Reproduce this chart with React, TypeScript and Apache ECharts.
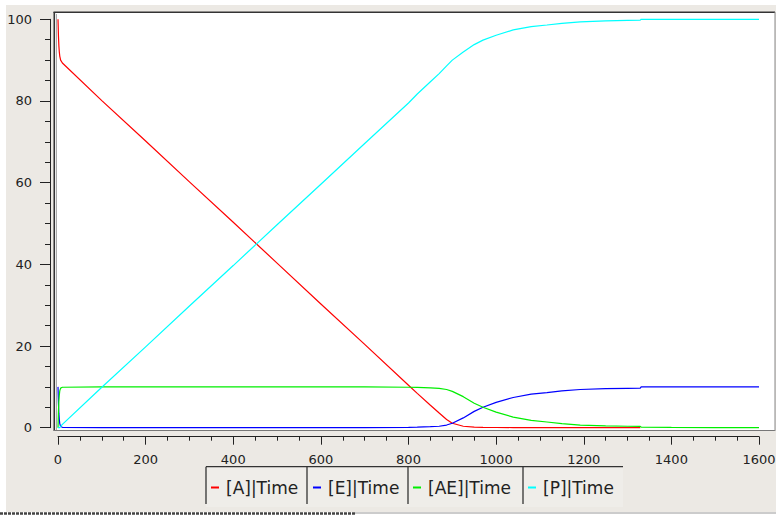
import React, { useEffect, useRef } from 'react';
import * as echarts from 'echarts';

// Time points (x values)
const times = [0, 1, 2, 3, 4, 6, 10, 100, 200, 300, 400, 500, 600, 700, 800, 820, 850, 870, 887, 900, 925, 950, 970, 1000, 1039, 1080, 1116, 1150, 1192, 1250, 1300, 1329, 1331, 1400, 1500, 1600];

// Concentrations
const valuesA: (number | null)[] = [100, 96, 93.5, 92, 91, 90, 89.3, 80.1, 70.2, 60.2, 50.3, 40.3, 30.3, 20.4, 10.4, 8.4, 5.5, 3.6, 2.0, 1.1, 0.35, 0.15, 0.08, 0.05, 0.04, 0.03, 0.02, 0.02, 0.01, 0.01, 0.01, 0.01, null, null, null, null];
const valuesE = [10, 6, 3.5, 2, 1, 0.3, 0.1, 0, 0, 0, 0, 0, 0, 0, 0.1, 0.15, 0.25, 0.35, 0.65, 1.1, 2.4, 4.0, 5.0, 6.2, 7.4, 8.2, 8.6, 9.0, 9.35, 9.55, 9.65, 9.7, 10.0, 10.0, 10.0, 10.0];
const valuesAE = [0, 4, 6.5, 8, 9, 9.7, 9.9, 10, 10, 10, 10, 10, 10, 10, 9.9, 9.85, 9.75, 9.65, 9.35, 8.9, 7.6, 6.0, 5.0, 3.8, 2.6, 1.8, 1.4, 1.0, 0.65, 0.45, 0.35, 0.3, 0.15, 0.1, 0.04, 0.01];
const valuesP = [0, 0, 0, 0, 0, 0.3, 0.8, 9.9, 19.8, 29.8, 39.7, 49.7, 59.6, 69.6, 79.5, 81.7, 84.7, 86.7, 88.6, 90.0, 92.0, 93.8, 94.9, 96.1, 97.4, 98.2, 98.6, 99.0, 99.35, 99.6, 99.75, 99.8, 100, 100, 100, 100];

const seriesNames = ['[A]|Time', '[E]|Time', '[AE]|Time', '[P]|Time'];
const seriesColors = ['#ff0000', '#0000ff', '#00ee00', '#00ffff'];
const seriesValues = [valuesA, valuesE, valuesAE, valuesP];

const xTickMin = 0;
const xTickMax = 1600;
const xTickStep = 200;
const yTickMin = 0;
const yTickMax = 100;
const yTickStep = 20;

const legendLefts = [211, 313, 413, 528];
const dividerXs = [206, 307, 408, 523];

const FONT = 'DejaVu Sans';

export default function App() {
  const ref = useRef<HTMLDivElement>(null);
  useEffect(() => {
    document.body.style.margin = '0';
    const chart = echarts.init(ref.current!, null, { renderer: 'svg', width: 776, height: 515 });

    const series = seriesNames.map((name, i) => ({
      name,
      type: 'line',
      data: times
        .map((t, j) => [t, seriesValues[i][j]])
        .filter((p) => p[1] !== null && p[1] !== undefined),
      showSymbol: false,
      symbol: 'none',
      clip: false,
      silent: true,
      color: seriesColors[i],
      lineStyle: { color: seriesColors[i], width: 1.2 },
      emphasis: { disabled: true },
      z: 5,
    }));

    const graphics: any[] = [
      // gray panel
      { type: 'rect', shape: { x: 6, y: 5, width: 770, height: 507 }, style: { fill: '#ece9e4' }, z: -100, silent: true },
      // legend panel
      { type: 'rect', shape: { x: 206, y: 467, width: 417, height: 40 }, style: { fill: '#efede9' }, z: -99, silent: true },
      // white plot area
      { type: 'rect', shape: { x: 54, y: 12, width: 721, height: 419 }, style: { fill: '#ffffff' }, z: -90, silent: true },
      // plot borders
      { type: 'line', shape: { x1: 53.5, y1: 12.3, x2: 775, y2: 12.3 }, style: { stroke: '#333', lineWidth: 1.6 }, z: 100, silent: true },
      { type: 'line', shape: { x1: 54.3, y1: 12, x2: 54.3, y2: 431 }, style: { stroke: '#333', lineWidth: 1.6 }, z: 100, silent: true },
      { type: 'line', shape: { x1: 56.5, y1: 14, x2: 56.5, y2: 430 }, style: { stroke: '#aaa', lineWidth: 1 }, z: 100, silent: true },
      { type: 'line', shape: { x1: 54, y1: 430.5, x2: 775, y2: 430.5 }, style: { stroke: '#777', lineWidth: 1.2 }, z: 100, silent: true },
      { type: 'line', shape: { x1: 775, y1: 12, x2: 775, y2: 431 }, style: { stroke: '#888', lineWidth: 1 }, z: 100, silent: true },
      // legend frame
      { type: 'line', shape: { x1: 206, y1: 466.7, x2: 623, y2: 466.7 }, style: { stroke: '#333', lineWidth: 1.3 }, z: 100, silent: true },
      ...dividerXs.map((x) => ({
        type: 'line',
        shape: { x1: x, y1: 466.7, x2: x, y2: 504 },
        style: { stroke: '#333', lineWidth: 1.3 },
        z: 100,
        silent: true,
      })),
      // cut-off strip at the bottom
      { type: 'line', shape: { x1: 0, y1: 513.5, x2: 355, y2: 513.5 }, style: { stroke: '#444', lineWidth: 2.5, lineDash: [3, 1] }, z: 100, silent: true },
      { type: 'line', shape: { x1: 355, y1: 513, x2: 776, y2: 513 }, style: { stroke: '#999', lineWidth: 1 }, z: 100, silent: true },
    ];

    chart.setOption({
      animation: false,
      backgroundColor: 'transparent',
      textStyle: { fontFamily: FONT },
      grid: { left: 58, right: 17, top: 19.3, bottom: 87.3, containLabel: false, outerBoundsMode: 'none' },
      xAxis: {
        type: 'value',
        min: xTickMin,
        max: xTickMax,
        interval: xTickStep,
        offset: 9,
        axisLine: { show: true, onZero: false, lineStyle: { color: '#222', width: 1 } },
        axisTick: { show: true, length: 8, lineStyle: { color: '#222', width: 1 } },
        minorTick: { show: true, splitNumber: 4, length: 4, lineStyle: { color: '#222', width: 1 } },
        splitLine: { show: false },
        minorSplitLine: { show: false },
        axisLabel: {
          margin: 16,
          fontSize: 13,
          color: '#222',
          fontFamily: FONT,
          showMinLabel: true,
          showMaxLabel: true,
          hideOverlap: false,
          formatter: (v: number) => String(v),
        },
      },
      yAxis: {
        type: 'value',
        min: yTickMin,
        max: yTickMax,
        interval: yTickStep,
        offset: 8,
        axisLine: { show: true, onZero: false, lineStyle: { color: '#222', width: 1 } },
        axisTick: { show: true, length: 10, lineStyle: { color: '#222', width: 1 } },
        minorTick: { show: true, splitNumber: 4, length: 5, lineStyle: { color: '#222', width: 1 } },
        splitLine: { show: false },
        minorSplitLine: { show: false },
        axisLabel: {
          margin: 18,
          fontSize: 13,
          color: '#222',
          fontFamily: FONT,
          showMinLabel: true,
          showMaxLabel: true,
          formatter: (v: number) => String(v),
        },
      },
      legend: seriesNames.map((name, i) => ({
        data: [name],
        left: legendLefts[i],
        top: 479,
        padding: 0,
        icon: 'rect',
        itemWidth: 8,
        itemHeight: 2,
        selectedMode: false,
        textStyle: { fontSize: 17, fontFamily: FONT, color: '#222', padding: [0, 0, 0, 2] },
      })),
      graphic: graphics,
      series,
    });
    return () => chart.dispose();
  }, []);
  return <div ref={ref} style={{ width: 776, height: 515, background: '#ffffff' }} />;
}
